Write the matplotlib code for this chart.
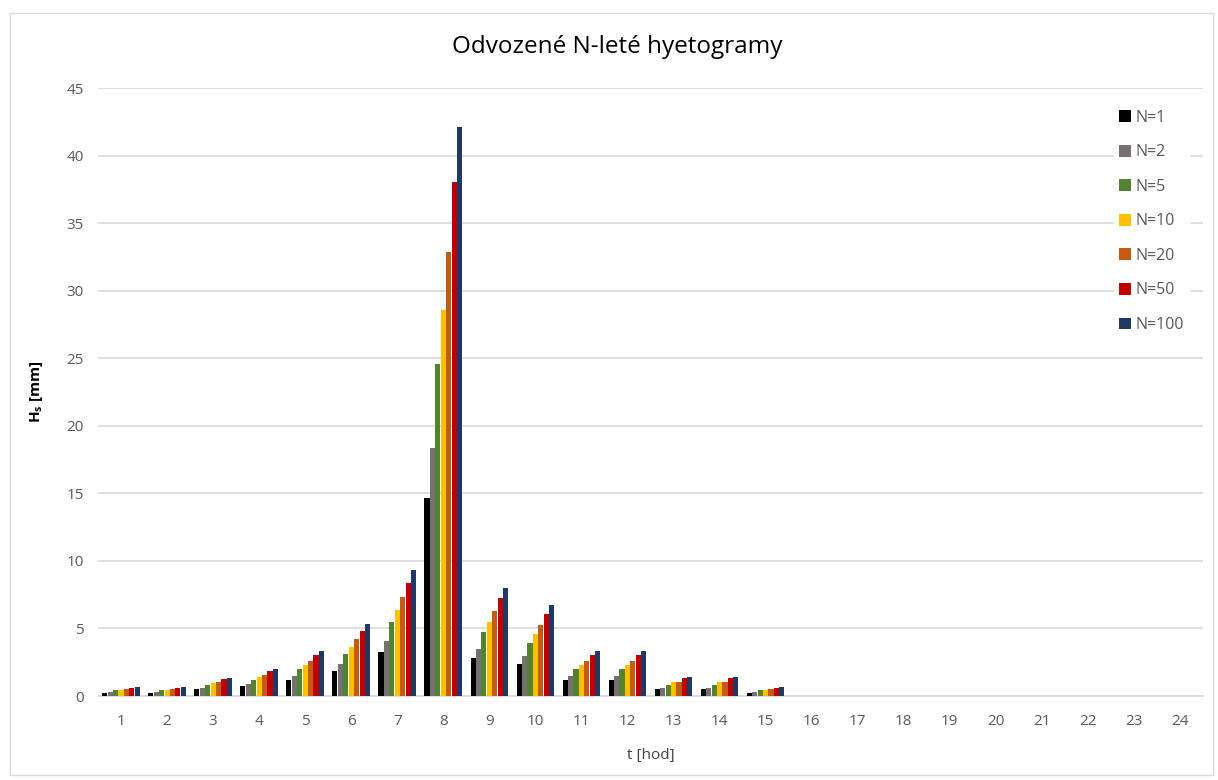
import numpy as np
import matplotlib
matplotlib.use("Agg")
import matplotlib.pyplot as plt
from matplotlib.patches import Rectangle

plt.rcParams['font.family'] = ['Open Sans', 'DejaVu Sans']

hodiny = list(range(1, 25))
serie = ["N=1", "N=2", "N=5", "N=10", "N=20", "N=50", "N=100"]
barvy = ["#000000", "#767171", "#548235", "#FFC000", "#C55A11", "#C00000", "#203864"]

# srazky po hodinach [mm], hodiny 16-24 nulove
n1 = [0.20, 0.20, 0.54, 0.74, 1.19, 1.85, 3.27, 14.68, 2.82, 2.40, 1.20, 1.20, 0.52, 0.52, 0.20] + [0] * 9
n2 = [0.27, 0.27, 0.61, 0.86, 1.48, 2.35, 4.05, 18.32, 3.48, 2.95, 1.50, 1.50, 0.62, 0.62, 0.27] + [0] * 9
n5 = [0.42, 0.42, 0.81, 1.19, 2.00, 3.09, 5.49, 24.57, 4.73, 3.92, 2.00, 2.00, 0.82, 0.82, 0.42] + [0] * 9
n10 = [0.42, 0.42, 0.99, 1.41, 2.30, 3.60, 6.36, 28.60, 5.50, 4.58, 2.30, 2.30, 1.00, 1.00, 0.45] + [0] * 9
n20 = [0.50, 0.50, 1.06, 1.56, 2.60, 4.20, 7.31, 32.86, 6.28, 5.25, 2.60, 2.60, 1.07, 1.07, 0.55] + [0] * 9
n50 = [0.56, 0.56, 1.28, 1.85, 3.03, 4.82, 8.38, 38.06, 7.26, 6.08, 3.03, 3.03, 1.30, 1.30, 0.60] + [0] * 9
n100 = [0.70, 0.70, 1.36, 2.00, 3.33, 5.30, 9.34, 42.08, 8.00, 6.72, 3.35, 3.35, 1.37, 1.37, 0.70] + [0] * 9
hodnoty = [n1, n2, n5, n10, n20, n50, n100]

fig = plt.figure(figsize=(12.18, 7.8), dpi=100)
ax = fig.add_axes([98 / 1218, 1 - 696 / 780, (1203 - 98) / 1218, (696 - 88) / 780])

x = np.array(hodiny)
sirka = 0.118
for i, (jmeno, h) in enumerate(zip(serie, hodnoty)):
    pos = x + (i - 3) * sirka
    ax.bar(pos, h, width=sirka * 0.94, color=barvy[i], label=jmeno, zorder=3)

ax.set_xlim(0.5, 24.5)
ax.set_ylim(0, 45)
ax.set_yticks(range(0, 46, 5))
ax.set_xticks(hodiny)
ax.yaxis.grid(True, color="#D9D9D9", linewidth=1.2, zorder=0)
ax.tick_params(axis="both", length=0, labelsize=11, colors="#595959")
ax.tick_params(axis="y", pad=10)
ax.tick_params(axis="x", pad=13)
for s in ["top", "right", "left"]:
    ax.spines[s].set_visible(False)
ax.spines["bottom"].set_color("#D9D9D9")
ax.spines["bottom"].set_linewidth(1.2)

ax.set_xlabel("t [hod]", fontsize=11, color="#404040", labelpad=14)
ax.set_ylabel("H$_\\mathregular{s}$ [mm]", fontsize=11, color="#000000",
              fontweight="bold", labelpad=16)

fig.text(617 / 1218, 1 - 47 / 780, "Odvozené N-leté hyetogramy", ha="center", va="center",
         fontsize=17.5, color="#000000")

leg = ax.legend(loc="upper left", bbox_to_anchor=(1106 / 1218, 1 - 97 / 780),
                bbox_transform=fig.transFigure, frameon=True, framealpha=1,
                edgecolor="white", fontsize=11.5, labelspacing=1.16,
                handlelength=0.75, handleheight=0.75, handletextpad=0.3, borderpad=0.3)
for t in leg.get_texts():
    t.set_color("#595959")

fig.patches.append(Rectangle((10 / 1218, 5 / 780), 1203 / 1218, 762 / 780,
                             transform=fig.transFigure, fill=False,
                             edgecolor="#D9D9D9", linewidth=1))

fig.savefig("out.png", dpi=100)
